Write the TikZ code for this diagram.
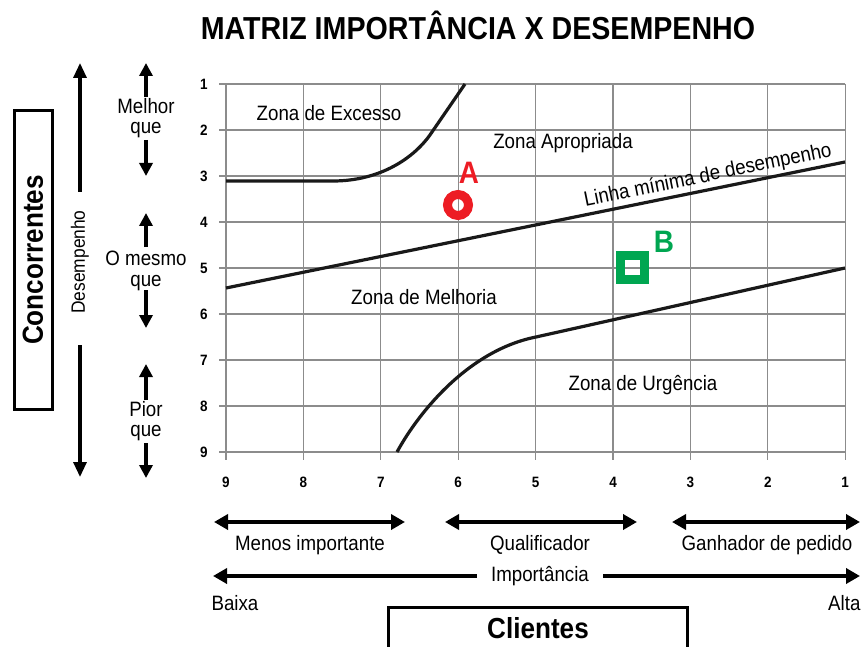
\documentclass[tikz,border=0pt]{standalone}
\usepackage{fontspec}
\setmainfont{Liberation Sans}[FakeStretch=0.9]
\usetikzlibrary{arrows.meta}
\definecolor{markred}{RGB}{237,28,36}
\definecolor{markgreen}{RGB}{0,166,81}

\begin{document}
\begin{tikzpicture}[x=1pt,y=-1pt,
    txt/.style={font=\fontsize{20.8}{20.5}\selectfont},
    axnum/.style={font=\fontsize{15}{16}\selectfont\bfseries},
    gridline/.style={draw=black!45,line width=1.2pt},
    curve/.style={draw=black!90,line width=3.2pt},
    bigarrow/.style={line width=3.2pt,-{Triangle[length=15pt,width=13pt]}},
    smallarrow/.style={line width=3.5pt,-{Triangle[length=13pt,width=13pt]}},
    scalearrow/.style={line width=4pt,{Triangle[length=14pt,width=15pt]}-{Triangle[length=14pt,width=15pt]}},
    letter/.style={font=\fontsize{31}{31}\selectfont\bfseries}]
  \useasboundingbox (0,0) rectangle (862,647);

  % title
  \node[font=\fontsize{31.8}{32}\selectfont\bfseries] (title) at (478,25) {MATRIZ IMPORTÂNCIA X DESEMPENHO};

  % grid and axis numbers
  \foreach \i in {0,...,8} {
    \draw[gridline] ({226+77.4*\i},84) -- ({226+77.4*\i},460);
    \draw[gridline] (219,{84+46*\i}) -- (845,{84+46*\i});
  }
  \foreach \v [count=\j from 0] in {1,...,9}
    \node[axnum] (y\v) at (204,{84+46*\j}) {\v};
  \foreach \v [count=\i from 0] in {9,8,...,1}
    \node[axnum] (x\v) at ({226+77.4*\i},482) {\v};

  % zone borders
  \draw[curve] (226,181) -- (333,181) .. controls (380,181) and (415,158) .. (432,132) -- (465,84);
  \draw[curve] (226,288) -- (845,162);
  \draw[curve] (397,452) .. controls (420,410) and (470,350) .. (536,337) -- (845,268);
  \node[txt,rotate=11.5] (linha) at (708,176) {Linha mínima de desempenho};

  \node[txt] (excesso) at (329,113) {Zona de Excesso};
  \node[txt] (apropriada) at (563,143) {Zona Apropriada};
  \node[txt] (melhoria) at (424,297) {Zona de Melhoria};
  \node[txt] (urgencia) at (643,385) {Zona de Urgência};

  % points A and B
  \draw[markred,line width=9pt] (458,205) circle (10.5pt);
  \node[letter,text=markred] (lblA) at (469,173) {A};
  \draw[markgreen,line width=9pt] (620,255) rectangle (644,279);
  \node[letter,text=markgreen] (lblB) at (664,242) {B};

  % competitors side
  \node[draw,line width=3pt,rotate=90,minimum width=298pt,minimum height=38pt,
    font=\fontsize{29}{30}\selectfont\bfseries] (conc) at (33,260) {Concorrentes};
  \node[font=\fontsize{19.3}{20}\selectfont,rotate=90] (desemp) at (80,262) {Desempenho};
  \draw[bigarrow] (80,192) -- (80,63);
  \draw[bigarrow] (80,345) -- (80,477);

  \node[txt,align=center] (melhor) at (146,118) {Melhor\\que};
  \node[txt,align=center] (mesmo) at (146,271) {O mesmo\\que};
  \node[txt,align=center] (pior) at (146,421) {Pior\\que};
  \foreach \a/\b/\c/\d in {97/63/140/176, 247/213/290/328, 400/364/443/478} {
    \draw[smallarrow] (146,\a) -- (146,\b);
    \draw[smallarrow] (146,\c) -- (146,\d);
  }

  % customers side
  \draw[scalearrow] (214,522) -- (405,522);
  \draw[scalearrow] (445,522) -- (637,522);
  \draw[scalearrow] (672,522) -- (860,522);
  \node[txt] (menos) at (310,545) {Menos importante};
  \node[txt] (qualif) at (540,545) {Qualificador};
  \node[txt] (ganhador) at (767,545) {Ganhador de pedido};

  \node[txt,inner xsep=14pt] (imp) at (540,576) {Importância};
  \draw[line width=4pt,-{Triangle[length=14pt,width=15pt]}] (imp.west) -- (213,576);
  \draw[line width=4pt,-{Triangle[length=14pt,width=15pt]}] (imp.east) -- (860,576);
  \node[txt,anchor=west] (baixa) at (208,603) {Baixa};
  \node[txt,anchor=east] (alta) at (864,603) {Alta};

  \draw[line width=3pt] (388,652) -- (388,607) -- (687,607) -- (687,652);
  \node[font=\fontsize{29}{30}\selectfont\bfseries] (clientes) at (538,628) {Clientes};
\end{tikzpicture}
\end{document}
